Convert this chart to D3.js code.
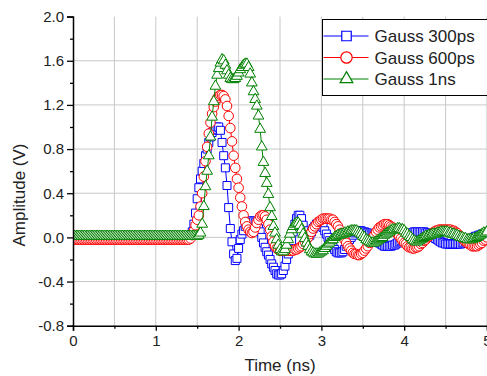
<!DOCTYPE html>
<html>
<head>
<meta charset="utf-8">
<script src="https://cdn.jsdelivr.net/npm/d3@7"></script>
<style>
  body { margin: 0; background: #fff; }
  text { font-family: "Liberation Sans", Arial, sans-serif; fill: #222; }
</style>
</head>
<body>
<div id="my_dataviz"></div>
<script>
// time axis (ns), sampled every 20 ps
const time = [
  0,0.02,0.04,0.06,0.08,0.1,0.12,0.14,0.16,0.18,
  0.2,0.22,0.24,0.26,0.28,0.3,0.32,0.34,0.36,0.38,
  0.4,0.42,0.44,0.46,0.48,0.5,0.52,0.54,0.56,0.58,
  0.6,0.62,0.64,0.66,0.68,0.7,0.72,0.74,0.76,0.78,
  0.8,0.82,0.84,0.86,0.88,0.9,0.92,0.94,0.96,0.98,
  1,1.02,1.04,1.06,1.08,1.1,1.12,1.14,1.16,1.18,
  1.2,1.22,1.24,1.26,1.28,1.3,1.32,1.34,1.36,1.38,
  1.4,1.42,1.44,1.46,1.48,1.5,1.52,1.54,1.56,1.58,
  1.6,1.62,1.64,1.66,1.68,1.7,1.72,1.74,1.76,1.78,
  1.8,1.82,1.84,1.86,1.88,1.9,1.92,1.94,1.96,1.98,
  2,2.02,2.04,2.06,2.08,2.1,2.12,2.14,2.16,2.18,
  2.2,2.22,2.24,2.26,2.28,2.3,2.32,2.34,2.36,2.38,
  2.4,2.42,2.44,2.46,2.48,2.5,2.52,2.54,2.56,2.58,
  2.6,2.62,2.64,2.66,2.68,2.7,2.72,2.74,2.76,2.78,
  2.8,2.82,2.84,2.86,2.88,2.9,2.92,2.94,2.96,2.98,
  3,3.02,3.04,3.06,3.08,3.1,3.12,3.14,3.16,3.18,
  3.2,3.22,3.24,3.26,3.28,3.3,3.32,3.34,3.36,3.38,
  3.4,3.42,3.44,3.46,3.48,3.5,3.52,3.54,3.56,3.58,
  3.6,3.62,3.64,3.66,3.68,3.7,3.72,3.74,3.76,3.78,
  3.8,3.82,3.84,3.86,3.88,3.9,3.92,3.94,3.96,3.98,
  4,4.02,4.04,4.06,4.08,4.1,4.12,4.14,4.16,4.18,
  4.2,4.22,4.24,4.26,4.28,4.3,4.32,4.34,4.36,4.38,
  4.4,4.42,4.44,4.46,4.48,4.5,4.52,4.54,4.56,4.58,
  4.6,4.62,4.64,4.66,4.68,4.7,4.72,4.74,4.76,4.78,
  4.8,4.82,4.84,4.86,4.88,4.9,4.92,4.94,4.96,4.98,
  5
];

const gauss300 = [
  0,0,0,0,0,0,0,0,0,0,
  0,0,0,0,0,0,0,0,0,0,
  0,0,0,0,0,0,0,0,0,0,
  0,0,0,0,0,0,0,0,0,0,
  0,0,0,0,0,0,0,0,0,0,
  0,0,0,0,0,0,0,0,0,0,
  0,0,0,0,0,0,0,0,0,0,
  0,0.02,0.05,0.12,0.22,0.35,0.45,0.53,0.6,0.67,
  0.74,0.8,0.86,0.91,0.95,0.97,0.98,1,1,0.97,
  0.86,0.74,0.63,0.47,0.27,0.08,-0.04,-0.15,-0.21,-0.19,
  -0.1,-0.02,0.03,0.06,0.1,0.13,0.14,0.15,0.15,0.14,
  0.13,0.11,0.08,0.05,0,-0.05,-0.09,-0.13,-0.16,-0.2,
  -0.24,-0.27,-0.3,-0.33,-0.34,-0.34,-0.33,-0.3,-0.26,-0.2,
  -0.15,-0.1,-0.03,0.05,0.12,0.17,0.2,0.2,0.17,0.11,
  0.06,0.02,0.01,0.02,0.05,0.08,0.1,0.12,0.12,0.12,
  0.11,0.09,0.06,0.03,0,-0.03,-0.06,-0.09,-0.11,-0.13,
  -0.14,-0.14,-0.14,-0.13,-0.11,-0.08,-0.05,-0.02,0,0.02,
  0.04,0.05,0.06,0.06,0.06,0.05,0.05,0.04,0.04,0.03,
  0.02,0.01,0,-0.02,-0.03,-0.05,-0.06,-0.07,-0.08,-0.08,
  -0.08,-0.08,-0.08,-0.07,-0.07,-0.06,-0.05,-0.04,-0.03,-0.01,
  0,0.01,0.02,0.03,0.04,0.04,0.05,0.05,0.05,0.05,
  0.05,0.05,0.05,0.04,0.04,0.03,0.02,0.01,0,-0.01,
  -0.02,-0.03,-0.04,-0.05,-0.05,-0.06,-0.06,-0.06,-0.06,-0.06,
  -0.06,-0.06,-0.06,-0.06,-0.06,-0.05,-0.05,-0.04,-0.04,-0.03,
  -0.02,-0.01,0,0.01,0.01,0.02,0.02,0.03,0.03,0.03,
  0.03
];

const gauss600 = [
  -0.02,-0.02,-0.02,-0.02,-0.02,-0.02,-0.02,-0.02,-0.02,-0.02,
  -0.02,-0.02,-0.02,-0.02,-0.02,-0.02,-0.02,-0.02,-0.02,-0.02,
  -0.02,-0.02,-0.02,-0.02,-0.02,-0.02,-0.02,-0.02,-0.02,-0.02,
  -0.02,-0.02,-0.02,-0.02,-0.02,-0.02,-0.02,-0.02,-0.02,-0.02,
  -0.02,-0.02,-0.02,-0.02,-0.02,-0.02,-0.02,-0.02,-0.02,-0.02,
  -0.02,-0.02,-0.02,-0.02,-0.02,-0.02,-0.02,-0.02,-0.02,-0.02,
  -0.02,-0.02,-0.02,-0.02,-0.02,-0.02,-0.02,-0.02,-0.02,-0.02,
  -0.02,-0.01,0.02,0.06,0.11,0.16,0.2,0.28,0.4,0.55,
  0.69,0.82,0.94,1.04,1.12,1.18,1.23,1.26,1.28,1.29,
  1.29,1.28,1.25,1.19,1.1,0.99,0.87,0.74,0.63,0.53,
  0.45,0.36,0.28,0.2,0.14,0.1,0.07,0.05,0.04,0.05,
  0.09,0.13,0.16,0.19,0.2,0.2,0.19,0.16,0.12,0.07,
  0.01,-0.04,-0.08,-0.1,-0.11,-0.12,-0.12,-0.12,-0.12,-0.12,
  -0.12,-0.12,-0.12,-0.12,-0.11,-0.11,-0.1,-0.09,-0.08,-0.06,
  -0.04,-0.02,0,0.03,0.05,0.08,0.1,0.12,0.14,0.15,
  0.16,0.17,0.17,0.17,0.17,0.17,0.16,0.16,0.14,0.12,
  0.1,0.07,0.04,0.01,-0.02,-0.05,-0.08,-0.1,-0.12,-0.14,
  -0.15,-0.15,-0.16,-0.16,-0.15,-0.14,-0.12,-0.1,-0.08,-0.05,
  -0.03,0,0.02,0.05,0.07,0.09,0.1,0.11,0.12,0.12,
  0.12,0.11,0.1,0.09,0.07,0.05,0.03,0.01,-0.01,-0.03,
  -0.05,-0.06,-0.08,-0.09,-0.09,-0.1,-0.1,-0.09,-0.09,-0.08,
  -0.06,-0.05,-0.03,-0.02,0,0.01,0.03,0.04,0.05,0.06,
  0.06,0.07,0.07,0.07,0.07,0.07,0.07,0.07,0.07,0.06,
  0.06,0.05,0.04,0.02,0.01,-0.01,-0.02,-0.04,-0.05,-0.06,
  -0.07,-0.08,-0.08,-0.08,-0.08,-0.07,-0.06,-0.05,-0.03,-0.02,
  0
];

const gauss1ns = [
  0.01,0.01,0.01,0.01,0.01,0.01,0.01,0.01,0.01,0.01,
  0.01,0.01,0.01,0.01,0.01,0.01,0.01,0.01,0.01,0.01,
  0.01,0.01,0.01,0.01,0.01,0.01,0.01,0.01,0.01,0.01,
  0.01,0.01,0.01,0.01,0.01,0.01,0.01,0.01,0.01,0.01,
  0.01,0.01,0.01,0.01,0.01,0.01,0.01,0.01,0.01,0.01,
  0.01,0.01,0.01,0.01,0.01,0.01,0.01,0.01,0.01,0.01,
  0.01,0.01,0.01,0.01,0.01,0.01,0.01,0.01,0.01,0.01,
  0.01,0.01,0.01,0.01,0.01,0.01,0.02,0.04,0.12,0.28,
  0.46,0.6,0.74,0.91,1.09,1.23,1.37,1.47,1.53,1.58,
  1.61,1.6,1.56,1.51,1.47,1.44,1.43,1.43,1.44,1.46,
  1.49,1.52,1.54,1.56,1.57,1.57,1.54,1.48,1.4,1.32,
  1.25,1.19,1.1,0.98,0.82,0.68,0.58,0.49,0.39,0.27,
  0.19,0.1,0.04,-0.02,-0.07,-0.11,-0.13,-0.13,-0.11,-0.07,
  -0.02,0.03,0.07,0.1,0.12,0.13,0.13,0.11,0.07,0.03,
  -0.01,-0.05,-0.08,-0.11,-0.13,-0.14,-0.15,-0.15,-0.15,-0.14,
  -0.13,-0.12,-0.1,-0.08,-0.06,-0.05,-0.03,-0.02,0,0.01,
  0.02,0.02,0.03,0.03,0.04,0.04,0.05,0.05,0.06,0.06,
  0.06,0.06,0.05,0.04,0.03,0.01,0,-0.02,-0.03,-0.04,
  -0.05,-0.05,-0.05,-0.04,-0.03,-0.02,-0.01,0,0.02,0.03,
  0.04,0.05,0.06,0.07,0.07,0.07,0.08,0.08,0.07,0.07,
  0.06,0.04,0.03,0.01,0,-0.02,-0.03,-0.04,-0.04,-0.03,
  -0.02,-0.01,0,0.01,0.01,0.02,0.02,0.03,0.03,0.03,
  0.04,0.04,0.05,0.05,0.05,0.05,0.05,0.04,0.04,0.03,
  0.03,0.02,0.02,0.01,0,0,-0.01,-0.01,-0.02,-0.02,
  -0.02,-0.02,-0.01,-0.01,0,0.01,0.02,0.03,0.04,0.04,
  0.05
];

const seriesNames = ["Gauss 300ps", "Gauss 600ps", "Gauss 1ns"];
const seriesColors = ["#0000FF", "#FF0000", "#008000"];
const seriesShapes = [d3.symbolSquare, d3.symbolCircle, d3.symbolTriangle];
const seriesValues = [gauss300, gauss600, gauss1ns];

const xTicks = [0, 1, 2, 3, 4, 5];
const xMinorTicks = [0.5, 1.5, 2.5, 3.5, 4.5];
const yTicks = [-0.8, -0.4, 0.0, 0.4, 0.8, 1.2, 1.6, 2.0];
const yMinorTicks = [-0.6, -0.2, 0.2, 0.6, 1.0, 1.4, 1.8];

const W = 487, H = 376;
const margin = { top: 16.6, right: 0, bottom: 50.3, left: 73 };
const width = W - margin.left - margin.right;
const height = H - margin.top - margin.bottom;

const svg = d3.select("#my_dataviz")
  .append("svg")
  .attr("width", W)
  .attr("height", H);

const g = svg.append("g")
  .attr("transform", "translate(" + margin.left + "," + margin.top + ")");

const x = d3.scaleLinear().domain([0, 5]).range([0, width]);
const y = d3.scaleLinear().domain([-0.8, 2.0]).range([height, 0]);

// grid
g.append("g").selectAll("line")
  .data(xMinorTicks.concat(xTicks.slice(1)))
  .enter().append("line")
  .attr("x1", d => x(d)).attr("x2", d => x(d))
  .attr("y1", 0).attr("y2", height)
  .attr("stroke", "#c8c8c8").attr("stroke-width", 1);

g.append("g").selectAll("line")
  .data(yTicks.filter(d => d > -0.8 && d < 2.0))
  .enter().append("line")
  .attr("x1", 0).attr("x2", width)
  .attr("y1", d => y(d)).attr("y2", d => y(d))
  .attr("stroke", "#c8c8c8").attr("stroke-width", 1);

svg.append("clipPath").attr("id", "plotclip")
  .append("rect").attr("x", 0).attr("y", -10).attr("width", width + 10).attr("height", height + 20);

const plot = g.append("g").attr("clip-path", "url(#plotclip)");

const line = d3.line()
  .x((d, i) => x(time[i]))
  .y(d => y(d));

const markerSize = [64, 72, 50];

seriesValues.forEach((vals, s) => {
  plot.append("path")
    .datum(vals)
    .attr("fill", "none")
    .attr("stroke", seriesColors[s])
    .attr("stroke-width", 1)
    .attr("d", line);

  plot.append("g").selectAll("path")
    .data(vals)
    .enter().append("path")
    .attr("transform", (d, i) => "translate(" + x(time[i]) + "," + y(d) + ")")
    .attr("d", d3.symbol().type(seriesShapes[s]).size(markerSize[s]))
    .attr("fill", "#fff")
    .attr("stroke", seriesColors[s])
    .attr("stroke-width", 1);
});

// axes
const yAxis = g.append("g")
  .call(d3.axisLeft(y).tickValues(yTicks).tickSize(6).tickPadding(3).tickFormat(d => d.toFixed(1)));
g.append("g")
  .call(d3.axisLeft(y).tickValues(yMinorTicks).tickSize(3).tickFormat(""))
  .select(".domain").remove();

const xAxis = g.append("g")
  .attr("transform", "translate(0," + height + ")")
  .call(d3.axisBottom(x).tickValues(xTicks).tickSize(5).tickPadding(5).tickFormat(d3.format("d")));
g.append("g")
  .attr("transform", "translate(0," + height + ")")
  .call(d3.axisBottom(x).tickValues(xMinorTicks).tickSize(3).tickFormat(""))
  .select(".domain").remove();

g.selectAll(".tick line").attr("stroke", "#000").attr("stroke-width", 1.3);
g.selectAll(".domain").attr("stroke", "#000").attr("stroke-width", 1.5);
g.selectAll(".tick text")
  .style("font-family", "'Liberation Sans', Arial, sans-serif")
  .style("font-size", "15px")
  .attr("fill", "#222");

svg.append("text")
  .attr("transform", "translate(25,195) rotate(-90)")
  .attr("text-anchor", "middle")
  .style("font-size", "17px")
  .text("Amplitude (V)");

svg.append("text")
  .attr("x", margin.left + x(2.5))
  .attr("y", 371)
  .attr("text-anchor", "middle")
  .style("font-size", "17px")
  .text("Time (ns)");

// legend
const legend = svg.append("g").attr("transform", "translate(322.5,19.5)");
legend.append("rect")
  .attr("width", 170).attr("height", 76)
  .attr("fill", "#fff").attr("stroke", "#000").attr("stroke-width", 1);

const item = legend.selectAll("g.item")
  .data(seriesNames)
  .enter().append("g")
  .attr("class", "item")
  .attr("transform", (d, i) => "translate(0," + (16.5 + i * 21.5) + ")");

item.append("line")
  .attr("x1", 1).attr("x2", 46)
  .attr("stroke", (d, i) => seriesColors[i]).attr("stroke-width", 1.2);
item.append("path")
  .attr("transform", "translate(24,0)")
  .attr("d", (d, i) => d3.symbol().type(seriesShapes[i]).size(markerSize[i] * 1.4)())
  .attr("fill", "#fff")
  .attr("stroke", (d, i) => seriesColors[i])
  .attr("stroke-width", 1.2);
item.append("text")
  .attr("x", 52).attr("y", 6)
  .style("font-size", "17px")
  .text(d => d);
</script>
</body>
</html>
